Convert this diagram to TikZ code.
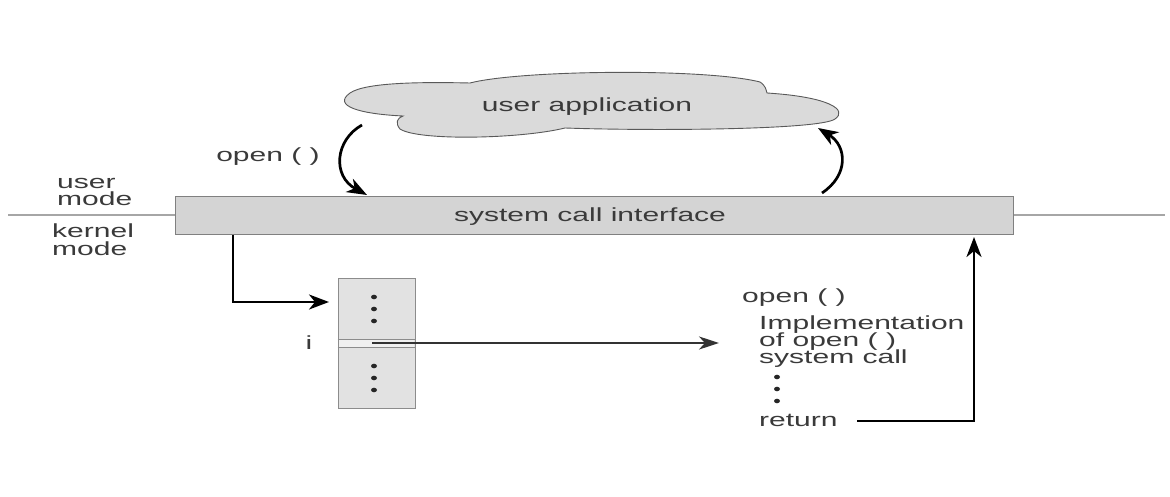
\documentclass[tikz,border=0pt]{standalone}
\usepackage{fontspec}
\setmainfont{Liberation Sans}[FakeStretch=1.58]
\usetikzlibrary{arrows.meta}
\definecolor{txt}{HTML}{3A3A3A}
\definecolor{boxfill}{HTML}{D4D4D4}
\definecolor{tblfill}{HTML}{E2E2E2}
\definecolor{cloudfill}{HTML}{DADADA}
\tikzset{
  lbl/.style={font=\fontsize{19}{17}\selectfont, text=txt, inner sep=0pt, anchor=base west},
  lblc/.style={lbl, anchor=base},
  bigarrow/.style={line width=2.7pt, black, -{Stealth[length=20pt,width=15pt,inset=6pt]}},
  midarrow/.style={line width=2.4pt, black!80, -{Stealth[length=20pt,width=13pt,inset=6pt]}},
  tdot/.style={fill=black!85},
}
\begin{document}
\begin{tikzpicture}[x=1pt,y=-1pt]
\useasboundingbox (0,0) rectangle (1170,497);
% mode separator line
\draw[line width=1.3pt, black!35] (8,215) -- (175,215);
\draw[line width=1.3pt, black!35] (1013,215) -- (1165,215);
% system call interface box
\node[draw=black!50, line width=1pt, fill=boxfill, minimum width=838pt, minimum height=38pt, inner sep=0pt] (sci) at (594,216) {};
\node[lblc] (scitext) at (590,222) {system call interface};
% cloud
\draw[fill=cloudfill, draw=black!65, line width=0.9pt]
 (403,116) .. controls (360,114) and (332,106) .. (350,93)
 .. controls (366,82) and (425,82) .. (470,83)
 .. controls (520,70) and (705,68) .. (760,82)
 .. controls (766,86) and (766,90) .. (767,93)
 .. controls (830,97) and (848,110) .. (835,119)
 .. controls (820,130) and (650,131) .. (565,128)
 .. controls (520,139) and (418,141) .. (400,129)
 .. controls (395,123) and (397,118) .. (403,116) -- cycle;
\node[lblc] (app) at (587,112) {user application};
\coordinate (cloudL) at (362,125);
\coordinate (cloudR) at (818,128);
% curved arrows
\coordinate (sciL) at (367,195);
\coordinate (sciR) at (822,193);
\draw[bigarrow] (cloudL) .. controls (335,140) and (332,176) .. (sciL);
\draw[bigarrow] (sciR) .. controls (849,175) and (847,146) .. (cloudR);
\node[lblc] (open1) at (268,162) {open ( )};
% mode labels
\node[lbl] (um1) at (57,189) {user};
\node[lbl] (um2) at (57,206) {mode};
\node[lbl] (km1) at (52,238) {kernel};
\node[lbl] (km2) at (52,255) {mode};
% table
\node[draw=black!45, line width=1pt, fill=tblfill, minimum width=77pt, minimum height=130pt, inner sep=0pt] (tbl) at (376.5,343) {};
\fill[black!6] (339,339.5) rectangle (414,346.5);
\draw[black!45, line width=1pt] (tbl.west |- 0,339) -- (tbl.east |- 0,339);
\draw[black!45, line width=1pt] (tbl.west |- 0,347) -- (tbl.east |- 0,347);
\foreach \yy in {297,309,321,366,378,390} \fill[tdot] (374,\yy) ellipse (3pt and 2.3pt);
\node[lblc] (ilbl) at (309,349) {i};
% elbow arrow from interface to table
\coordinate (sciB) at (233,235);
\coordinate (elbow) at (233,302);
\coordinate (tblIn) at (329,302);
\draw[bigarrow, line width=2.6pt] (sciB) -- (elbow) -- (tblIn);
% right text block
\node[lbl] (open2) at (742,302) {open ( )};
\node[lbl] (impl1) at (759,329) {Implementation};
\node[lbl] (impl2) at (759,346) {of open ( )};
\node[lbl] (impl3) at (759,363) {system call};
\foreach \yy in {377,389,401} \fill[tdot] (777,\yy) ellipse (3pt and 2.3pt);
\node[lbl] (ret) at (759,426) {return};
% slot to implementation
\coordinate (slot) at (372,343);
\coordinate (implIn) at (719,343);
\draw[midarrow] (slot) -- (implIn);
% return arrow
\coordinate (retOut) at (857,421);
\coordinate (retCorner) at (974,421);
\coordinate (sciIn) at (974,237);
\draw[bigarrow] (retOut) -- (retCorner) -- (sciIn);
\end{tikzpicture}
\end{document}
